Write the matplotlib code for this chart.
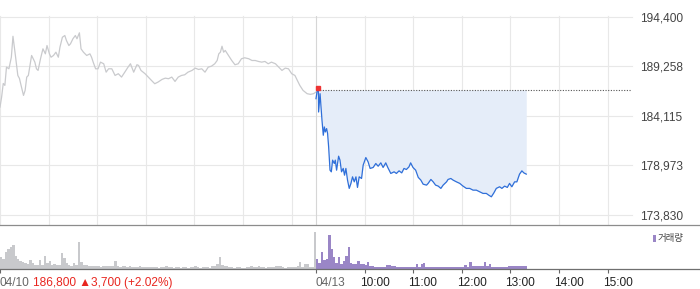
import matplotlib
matplotlib.use("Agg")
import matplotlib.pyplot as plt
from matplotlib.lines import Line2D
from matplotlib.patches import Rectangle
import numpy as np

plt.rcParams['font.family'] = ['Liberation Sans', 'Noto Sans CJK KR', 'DejaVu Sans']

# ---------------- data ----------------
# minutes from 09:00 of 04/10 (0..390 = 04/10, 390..780 = 04/13 09:00-15:30)
prev_min = [0, 2, 4, 6, 8, 11, 14, 16, 19, 22,
            24, 26, 29, 31, 33, 35, 39, 41, 43, 45,
            47, 50, 53, 56, 58, 61, 63, 66, 69, 72,
            74, 77, 80, 82, 85, 87, 90, 93, 95, 98,
            100, 103, 107, 111, 113, 115, 118, 121, 124, 128,
            131, 134, 138, 142, 146, 150, 154, 158, 161, 165,
            169, 171, 174, 179, 183, 187, 191, 195, 200, 204,
            208, 212, 216, 220, 224, 228, 232, 237, 241, 245,
            249, 253, 257, 261, 265, 268, 270, 272, 274, 276,
            278, 282, 286, 290, 294, 298, 302, 307, 311, 315,
            319, 323, 327, 331, 335, 340, 344, 348, 352, 356,
            360, 364, 367, 370, 374, 379, 383, 387, 390]
prev_price = [185020, 186060, 187470, 187270, 189160, 188990, 190190, 192360, 190370, 188300,
              187990, 187270, 186230, 186750, 188130, 188300, 190370, 190030, 189680, 188990,
              188820, 190030, 191060, 190540, 191400, 190540, 190190, 190370, 190710, 190190,
              191230, 192260, 192440, 191920, 191400, 191580, 192100, 192440, 192100, 192720,
              191060, 190710, 190370, 190540, 190190, 189680, 188990, 188990, 189680, 189510,
              188640, 188990, 188990, 188300, 188480, 188130, 188640, 189160, 189510, 188640,
              189410, 189340, 188820, 188480, 188130, 187780, 187440, 187610, 187890, 188020,
              187960, 188130, 187680, 188130, 188300, 188370, 188640, 188820, 189060, 188920,
              188990, 188640, 189160, 189260, 189510, 189850, 190540, 190710, 191330, 190710,
              190890, 190370, 189850, 189410, 189510, 190030, 190130, 190030, 189850, 189850,
              189750, 189680, 189750, 189510, 189680, 189510, 189160, 188820, 189060, 188990,
              188480, 188300, 187780, 187270, 186750, 186410, 186340, 186410, 186580]

today_min = [390, 391.2, 392.9, 393.2, 395, 396.2, 397.4, 399, 400.3, 401.5,
             403.1, 404.3, 405.6, 407.3, 408.9, 410.5, 412.6, 413.8, 415.4, 417.9,
             419.6, 421.5, 423.6, 425.2, 426.9, 428.9, 431, 433.1, 435.1, 437.2,
             439.3, 441.2, 443.3, 446.2, 448.2, 451.5, 454.3, 456.8, 460.5, 463.8,
             466.7, 470, 472.8, 476.1, 478.6, 482.3, 486.4, 489.2, 492.5, 495.8,
             498.6, 501.5, 504.7, 506.8, 509.7, 513, 516.2, 519.4, 522.2, 526.4,
             528.4, 531.8, 534.6, 537.6, 540.8, 544.1, 546.9, 551.1, 553, 556.4,
             559.2, 563.3, 567.4, 571.4, 575.6, 579.7, 583.8, 587.9, 592, 596.1,
             600.2, 603, 606.4, 609.6, 612.5, 616.6, 619.4, 622.8, 626.1, 628.9,
             631.7, 635.1, 637.9, 641.2, 644.1, 646.5, 649.5]
today_price = [185890, 186580, 187030, 184510, 186410, 185020, 183650, 182100, 182960, 182440,
               182790, 182280, 180890, 178480, 178310, 179520, 179170, 179520, 178480, 179930,
               179520, 178310, 178660, 177960, 178660, 177450, 176590, 177110, 177790, 177270,
               177790, 176690, 177790, 177620, 179000, 179790, 179340, 178660, 178760, 179170,
               178890, 179240, 178760, 179240, 178760, 178140, 178310, 178140, 178410, 178200,
               178660, 178550, 178820, 179240, 178760, 178480, 177730, 177450, 177030, 176930,
               177110, 177520, 177270, 176930, 176830, 176590, 176930, 177270, 177520, 177620,
               177450, 177270, 177110, 176830, 176590, 176590, 176410, 176410, 176240, 176070,
               176070, 175900, 175720, 176140, 176590, 176760, 176590, 176830, 176690, 177110,
               176760, 177270, 177270, 178070, 178410, 178200, 178070]

prev_close = 186800
y_ticks = [173830, 178973, 184115, 189258, 194400]

# volume in 3-minute bins (relative units)
vol_bin = 3
prev_vol = [12, 10, 17, 20, 22, 24, 13, 10, 8, 7,
            6, 5, 9, 6, 4, 4, 9, 4, 13, 6,
            8, 4, 5, 4, 4, 16, 11, 6, 4, 3,
            6, 4, 27, 7, 4, 4, 3, 3, 3, 3,
            3, 2, 3, 3, 3, 3, 3, 8, 3, 2,
            3, 3, 2, 3, 2, 2, 2, 3, 2, 2,
            2, 2, 2, 2, 2, 1, 2, 2, 3, 2,
            2, 1, 2, 2, 1, 2, 2, 1, 2, 2,
            3, 2, 1, 2, 2, 2, 1, 3, 3, 5,
            12, 4, 3, 3, 2, 2, 1, 2, 2, 1,
            1, 2, 2, 3, 2, 2, 3, 2, 2, 1,
            2, 2, 2, 3, 3, 3, 2, 1, 2, 2,
            2, 2, 3, 7, 2, 5, 5, 2, 2, 37]
today_vol = [10, 6, 17, 9, 10, 34, 20, 12, 6, 12,
             5, 8, 13, 22, 6, 5, 5, 8, 5, 5,
             4, 7, 3, 3, 2, 2, 2, 2, 2, 4,
             4, 3, 3, 2, 2, 2, 2, 2, 2, 2,
             2, 5, 2, 5, 6, 2, 2, 2, 2, 2,
             2, 2, 2, 2, 2, 2, 2, 2, 2, 2,
             2, 4, 2, 7, 3, 3, 3, 3, 3, 7,
             3, 5, 2, 2, 2, 2, 2, 2, 2, 3,
             3, 3, 3, 3, 3, 3, 3]

hour_labels = ['10:00', '11:00', '12:00', '13:00', '14:00', '15:00']
hour_pos = [450, 510, 570, 630, 690, 750]

# ---------------- figure ----------------
W, H = 700, 289
fig = plt.figure(figsize=(7, 2.89), dpi=100)

def fy(py):
    return (H - py) / H

plot_w = 632 / W
ax = fig.add_axes([0, fy(225), plot_w, (225 - 16) / H])
axv = fig.add_axes([0, fy(268.7), plot_w, (268.7 - 226) / H])

XMAX = 780
ax.set_xlim(0, XMAX)
px_per_price = 199 / (194400 - 173830)
ymin = 173830 - 10 / px_per_price
ax.set_ylim(ymin, 194400 + 0.6 / px_per_price)

grid_c = '#e8e8e8'
for v in y_ticks:
    ax.axhline(v, color=grid_c, lw=0.8, zorder=0, clip_on=False)
for m in [0, 60, 120, 180, 240, 300, 360] + hour_pos:
    ax.axvline(m, color=grid_c, lw=0.8, zorder=0, clip_on=False)
ax.axvline(390, color='#d6d6d6', lw=0.8, zorder=0)

# previous day line
ax.plot(prev_min, prev_price, color='#c9cacd', lw=0.9, zorder=2)

# today fill + line
ax.fill_between(today_min, today_price, prev_close, color='#e5edf9', lw=0, zorder=1)
ax.plot(today_min, today_price, color='#2f6fd9', lw=0.9, zorder=3)
ax.plot([today_min[0] + 1.5, XMAX], [prev_close, prev_close], color='#555555',
        lw=0.8, ls=(0, (1, 1.4)), zorder=2)
ax.plot([today_min[0] + 2.5], [prev_close + 150], marker='s', ms=2.6, color='#ee3333',
        mec='#ee3333', zorder=4)

for s in ax.spines.values():
    s.set_visible(False)
ax.set_xticks([])
ax.yaxis.tick_right()
ax.set_yticks(y_ticks)
ax.set_yticklabels([f'{v:,}' for v in y_ticks])
ax.tick_params(axis='y', length=0, pad=5.8, labelsize=8.6, labelcolor='#444444')

# volume
prev_x = np.arange(len(prev_vol)) * vol_bin
today_x = 390 + np.arange(len(today_vol)) * vol_bin
axv.bar(prev_x, prev_vol, width=vol_bin, align='edge', color='#c8c9cc', lw=0)
axv.bar(today_x, today_vol, width=vol_bin, align='edge', color='#9a86c6', lw=0)
axv.set_xlim(0, XMAX)
axv.set_ylim(0, 42.7)
for s in axv.spines.values():
    s.set_visible(False)
axv.set_yticks([])
axv.set_xticks([0, 390] + hour_pos)
axv.tick_params(axis='x', length=3, width=0.8, color='#666666', labelbottom=False, direction='out')

# separator lines spanning full width
fig.add_artist(Line2D([0, 1], [fy(225), fy(225)], transform=fig.transFigure, color='#8c8c8c', lw=0.9))
fig.add_artist(Line2D([0, 1], [fy(268.7), fy(268.7)], transform=fig.transFigure, color='#6f6f6f', lw=0.9))

# x labels
def mx(m):
    return (m / XMAX * 632) / W

ly = fy(283)
fig.text(0.0, ly, '04/10', ha='left', va='center', fontsize=8.6, color='#666666')
fig.text(33 / W, ly, '186,800 \u25b23,700 (+2.02%)', ha='left', va='center', fontsize=8.6, color='#e8261f')
fig.text(mx(390), ly, '04/13', ha='left', va='center', fontsize=8.6, color='#666666')
for lab, m in zip(hour_labels, hour_pos):
    fig.text(mx(m) - 5 / W, ly, lab, ha='left', va='center', fontsize=8.6, color='#222222')

# legend
fig.add_artist(Rectangle((653.3 / W, fy(241.7)), 2.7 / W, 6.7 / H, transform=fig.transFigure,
                         color='#9a86c6', lw=0))
fig.text(658 / W, fy(238.3), '거래량', ha='left', va='center', fontsize=6.8, color='#444444')

fig.savefig('out.png', dpi=100)
